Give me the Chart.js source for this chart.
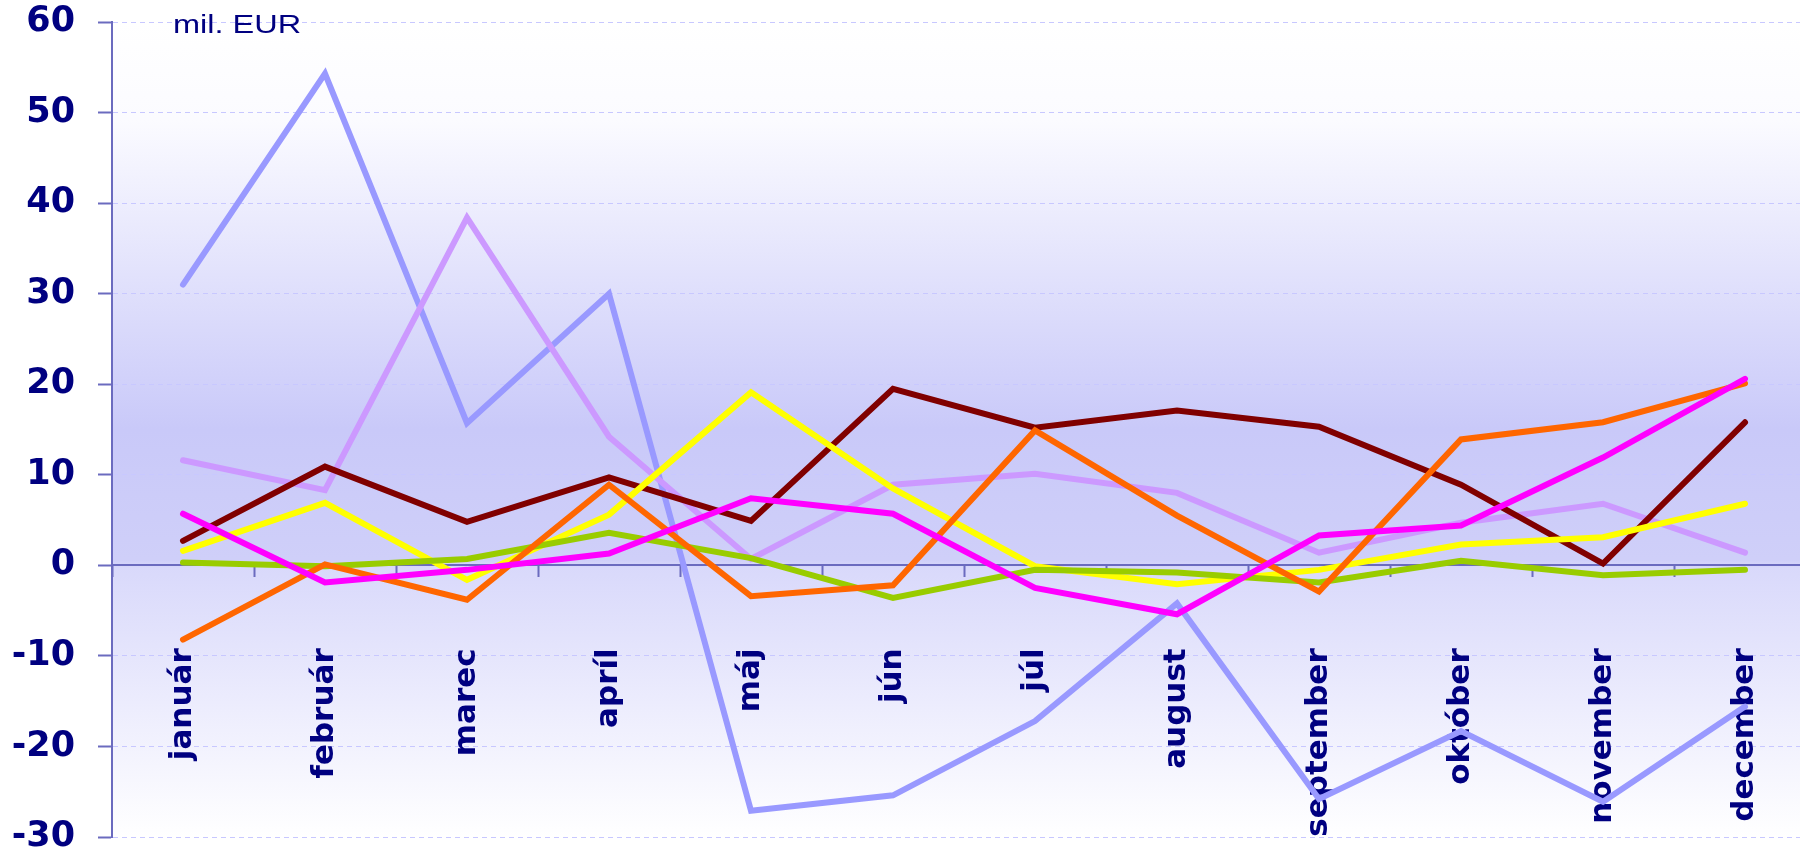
<!DOCTYPE html>
<html>
<head>
<meta charset="utf-8">
<title>mil. EUR</title>
<script src="https://cdn.jsdelivr.net/npm/chart.js@4/dist/chart.umd.min.js"></script>
<style>
	html, body { margin: 0; padding: 0; background: #ffffff; overflow: hidden; }
	#box { width: 1816px; height: 851px; }
</style>
</head>
<body>
<div id="box"><canvas id="canvas" width="1816" height="851"></canvas></div>
<script>
// mesiace
var months = ["január", "február", "marec", "apríl", "máj", "jún", "júl", "august", "september", "október", "november", "december"];
var yTicks = [-30, -20, -10, 0, 10, 20, 30, 40, 50, 60];
var unitLabel = "mil. EUR";

// hodnoty jednotlivých radov (mil. EUR)
var serieBlue = [31.0, 54.3, 15.7, 30.0, -27.1, -25.4, -17.2, -4.2, -25.8, -18.3, -26.1, -15.6];
var serieLavender = [11.6, 8.3, 38.4, 14.2, 0.7, 8.9, 10.1, 8.0, 1.4, 4.7, 6.8, 1.4];
var serieMaroon = [2.7, 10.9, 4.8, 9.7, 4.9, 19.5, 15.2, 17.1, 15.3, 8.9, 0.2, 15.8];
var serieYellow = [1.6, 6.9, -1.6, 5.6, 19.1, 8.5, -0.1, -2.1, -0.5, 2.3, 3.1, 6.8];
var serieGreen = [0.3, -0.1, 0.7, 3.6, 0.8, -3.6, -0.5, -0.8, -1.9, 0.5, -1.1, -0.5];
var serieOrange = [-8.2, 0.1, -3.8, 8.9, -3.4, -2.2, 14.9, 5.5, -2.9, 13.9, 15.8, 20.1];
var serieMagenta = [5.7, -1.9, -0.5, 1.3, 7.4, 5.7, -2.5, -5.4, 3.3, 4.4, 11.9, 20.6];

var navy = "#000080";
var axisColor = "#6b6bbf";

window.onload = function() {
	fullData();
};

function makeSet(label, data, color) {
	var set = {};
	set["label"] = label;
	set["data"] = data;
	set["borderColor"] = color;
	set["backgroundColor"] = color;
	set["borderWidth"] = 6;
	set["borderCapStyle"] = "round";
	set["pointRadius"] = 0;
	set["pointHoverRadius"] = 0;
	set["fill"] = false;
	set["tension"] = 0;
	return set;
}

// pozadie grafu - prechod do modra
var plotBackground = {
	id : "plotBackground",
	beforeDraw : function(chart) {
		var a = chart.chartArea;
		var ctx = chart.ctx;
		var g = ctx.createLinearGradient(0, a.top, 0, a.bottom);
		g.addColorStop(0, "#ffffff");
		g.addColorStop(0.12, "#fbfbff");
		g.addColorStop(0.5, "#c9c9f9");
		g.addColorStop(0.66, "#cfcff9");
		g.addColorStop(0.67, "#d9d9fb");
		g.addColorStop(1, "#ffffff");
		ctx.save();
		ctx.fillStyle = g;
		ctx.fillRect(a.left, a.top, a.right - a.left, a.bottom - a.top);
		ctx.restore();
	}
};

var unitText = {
	id : "unitText",
	afterDraw : function(chart) {
		var ctx = chart.ctx;
		ctx.save();
		ctx.fillStyle = navy;
		ctx.font = "26px 'Liberation Sans', Arial, sans-serif";
		ctx.textBaseline = "alphabetic";
		ctx.translate(173, 33);
		ctx.scale(1.25, 1);
		ctx.fillText(unitLabel, 0, 0);
		ctx.restore();
	}
};

function fullData() {
	var datasets = [];
	datasets.push(makeSet("5", serieMagenta, "#ff00ff"));
	datasets.push(makeSet("6", serieOrange, "#ff6600"));
	datasets.push(makeSet("7", serieGreen, "#99cc00"));
	datasets.push(makeSet("4", serieYellow, "#ffff00"));
	datasets.push(makeSet("3", serieMaroon, "#800000"));
	datasets.push(makeSet("2", serieLavender, "#cc99ff"));
	datasets.push(makeSet("1", serieBlue, "#9999ff"));

	var ctx = document.getElementById("canvas").getContext("2d");
	if (window.myLine) {
		window.myLine.destroy();
	}
	window.myLine = new Chart(ctx, {
		type : "line",
		data : {
			labels : months,
			datasets : datasets
		},
		plugins : [plotBackground, unitText],
		options : {
			responsive : false,
			animation : false,
			devicePixelRatio : 1,
			layout : {
				padding : { top : 22, bottom : 14, left : 0, right : 0 }
			},
			plugins : {
				legend : { display : false },
				title : { display : false },
				tooltip : { enabled : false }
			},
			scales : {
				x : {
					type : "category",
					position : { y : 0 },
					offset : true,
					grid : {
						offset : true,
						drawOnChartArea : false,
						drawTicks : true,
						tickLength : 11,
						tickColor : axisColor,
						tickWidth : 2
					},
					border : { display : true, color : axisColor, width : 2 },
					ticks : {
						autoSkip : false,
						minRotation : 90,
						maxRotation : 90,
						padding : 72,
						color : navy,
						font : { family : "'DejaVu Sans', sans-serif", size : 31, weight : "bold" }
					},
					afterFit : function(scale) {
						scale.paddingLeft = 0;
						scale.paddingRight = 0;
						scale.paddingTop = 0;
						scale.paddingBottom = 0;
					}
				},
				y : {
					min : yTicks[0],
					max : yTicks[yTicks.length - 1],
					afterBuildTicks : function(scale) {
						scale.ticks = yTicks.map(function(v) { return { value : v }; });
					},
					grid : {
						color : "#c8c8ff",
						lineWidth : 1,
						drawTicks : true,
						tickLength : 14,
						tickColor : axisColor,
						tickWidth : 2,
						tickBorderDash : []
					},
					// v4: dash tu plati pre mriezku, nie pre os
					border : { display : true, color : axisColor, width : 2, dash : [5, 4] },
					ticks : {
						padding : 23,
						color : navy,
						font : { family : "'DejaVu Sans', sans-serif", size : 35, weight : "bold" }
					},
					afterFit : function(scale) {
						scale.width = 112;
						scale.paddingTop = 0;
						scale.paddingBottom = 0;
					}
				}
			}
		}
	});
}
</script>
</body>
</html>
